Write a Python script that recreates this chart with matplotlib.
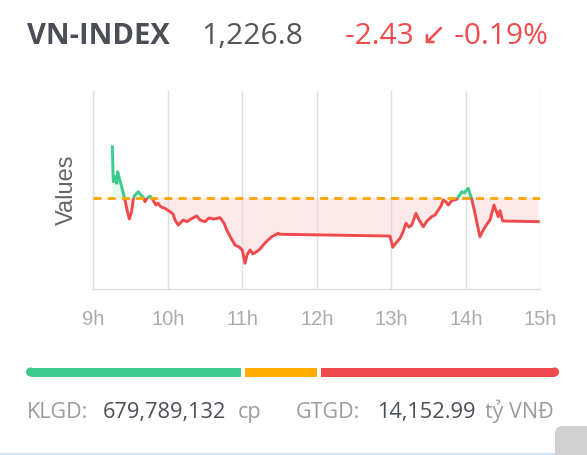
import matplotlib.pyplot as plt
import numpy as np
from matplotlib.patches import Rectangle, FancyBboxPatch, Circle

# intraday VN-INDEX, time in hours
times = [9.255, 9.268, 9.291, 9.314, 9.328, 9.349, 9.381, 9.403, 9.421, 9.448,
         9.483, 9.515, 9.537, 9.560, 9.604, 9.640, 9.667, 9.694, 9.721, 9.761,
         9.788, 9.842, 9.868, 9.909, 9.962, 10.030, 10.070, 10.097, 10.141, 10.208,
         10.258, 10.311, 10.388, 10.432, 10.499, 10.553, 10.620, 10.701, 10.754, 10.791,
         10.848, 10.902, 10.956, 11.000, 11.036, 11.063, 11.103, 11.143, 11.193, 11.238,
         11.282, 11.332, 11.395, 11.439, 11.483, 11.500, 12.983, 13.019, 13.063, 13.117,
         13.157, 13.197, 13.238, 13.274, 13.331, 13.372, 13.430, 13.479, 13.542, 13.587,
         13.631, 13.667, 13.698, 13.734, 13.765, 13.815, 13.878, 13.909, 13.945, 13.976,
         14.034, 14.057, 14.079, 14.123, 14.164, 14.190, 14.235, 14.285, 14.325, 14.378,
         14.436, 14.459, 14.495, 14.973]
values = [1234.37, 1230.84, 1231.34, 1230.68, 1231.85, 1231.18, 1230.33, 1229.67, 1229.14, 1228.15,
          1227.07, 1227.81, 1229.09, 1229.49, 1229.83, 1229.49, 1229.29, 1228.82, 1229.16, 1229.39,
          1229.14, 1228.48, 1228.66, 1228.28, 1228.15, 1227.81, 1227.58, 1226.97, 1226.46, 1226.97,
          1226.80, 1227.07, 1227.37, 1226.97, 1226.80, 1227.17, 1227.07, 1227.20, 1226.67, 1225.96,
          1225.15, 1224.44, 1224.24, 1223.94, 1222.60, 1223.43, 1223.94, 1223.54, 1223.77, 1224.04,
          1224.44, 1224.85, 1225.28, 1225.45, 1225.63, 1225.53, 1225.35, 1224.21, 1224.65, 1225.12,
          1225.76, 1226.64, 1226.26, 1226.46, 1227.65, 1226.97, 1226.29, 1226.87, 1227.30, 1227.47,
          1227.98, 1228.38, 1228.99, 1228.79, 1228.48, 1228.94, 1229.06, 1229.39, 1229.83, 1229.70,
          1230.17, 1229.60, 1229.09, 1227.65, 1226.16, 1225.28, 1225.96, 1226.57, 1226.97, 1228.48,
          1227.30, 1227.91, 1226.87, 1226.80]
ref_value = 1229.23

hour_ticks = [9, 10, 11, 12, 13, 14, 15]
hour_labels = ['9h', '10h', '11h', '12h', '13h', '14h', '15h']

# breadth bar: up / unchanged / down (relative widths)
breadth = [215, 71.4, 238.3]
breadth_colors = ['#3ccb8b', '#ffab00', '#f04b4c']

GREEN = '#3ccb8b'
RED = '#f04b4c'

W, H = 587, 455
fig = plt.figure(figsize=(W / 100, H / 100), dpi=100)

# pixel-coord overlay for header / footer
deco = fig.add_axes([0, 0, 1, 1], zorder=0)
deco.set_xlim(0, W)
deco.set_ylim(H, 0)
deco.axis('off')

ax = fig.add_axes([93.3 / W, 166 / H, 447 / W, 198 / H], zorder=1)
ax.patch.set_alpha(0)
t = np.array(times)
v = np.array(values)

ax.fill_between(t, v, ref_value, where=v >= ref_value, interpolate=True,
                color='#e6f8ef', lw=0)
ax.fill_between(t, v, ref_value, where=v <= ref_value, interpolate=True,
                color='#fde9e9', lw=0)

up_clip = Rectangle((8, ref_value), 8, 30, transform=ax.transData)
dn_clip = Rectangle((8, ref_value - 30), 8, 30, transform=ax.transData)
l1, = ax.plot(t, v, color=GREEN, lw=2.1, solid_joinstyle='round', zorder=3)
l1.set_clip_path(up_clip)
l2, = ax.plot(t, v, color=RED, lw=2.1, solid_joinstyle='round', zorder=3)
l2.set_clip_path(dn_clip)

ax.axhline(ref_value, color='#ffa500', lw=2, dashes=(2.9, 2.2), zorder=4)

ax.set_xlim(9, 15)
ax.set_ylim(1220, 1240)
ax.set_xticks(hour_ticks)
ax.set_xticklabels(hour_labels)
ax.set_yticks([])
ax.tick_params(axis='x', length=0, pad=15, labelsize=14.5, labelcolor='#aaaaaa')
for lab in ax.get_xticklabels():
    lab.set_family('Liberation Sans')
ax.grid(axis='x', color='#dedede', lw=1)
for s in ['top', 'right']:
    ax.spines[s].set_visible(False)
for s in ['left', 'bottom']:
    ax.spines[s].set_color('#dcdcdc')
    ax.spines[s].set_linewidth(1)
ax.set_ylabel('Values', fontsize=17, color='#666666', family='Liberation Sans', labelpad=11)

# header
deco.text(27, 43.5, 'VN-INDEX', fontsize=21, fontweight='bold', color='#4b4e56',
          family='Open Sans', va='baseline')
deco.text(201, 43.5, '1,226.8', fontsize=21.7, color='#555555',
          family='Open Sans', va='baseline')
deco.text(345, 43.5, '-2.43 \u2199 -0.19%', fontsize=21.5, color=RED,
          family=['Open Sans', 'DejaVu Sans'], va='baseline')

# breadth bar
x0, y0, bh, gap = 26, 367.5, 9, 4.2
r = bh / 2
lefts = np.concatenate([[0], np.cumsum(breadth)[:-1]]) + x0 + gap * np.arange(len(breadth))
for i, (w, c) in enumerate(zip(breadth, breadth_colors)):
    left = lefts[i]
    if i == 0:
        deco.add_patch(Circle((left + r, y0 + r), r, fc=c, ec='none'))
        deco.add_patch(Rectangle((left + r, y0), w - r, bh, fc=c, ec='none'))
    elif i == len(breadth) - 1:
        deco.add_patch(Circle((left + w - r, y0 + r), r, fc=c, ec='none'))
        deco.add_patch(Rectangle((left, y0), w - r, bh, fc=c, ec='none'))
    else:
        deco.add_patch(Rectangle((left, y0), w, bh, fc=c, ec='none'))

# footer stats
fy = 418.3
lab_c, num_c = '#9b9b9b', '#4a4f57'
deco.text(27, fy, 'KLGD:', fontsize=15.5, color=lab_c, family='Open Sans', va='baseline')
deco.text(103, fy, '679,789,132', fontsize=15.7, color=num_c, family='Open Sans', va='baseline')
deco.text(238, fy, 'cp', fontsize=15.5, color=lab_c, family='Open Sans', va='baseline')
deco.text(296, fy, 'GTGD:', fontsize=15.5, color=lab_c, family='Open Sans', va='baseline')
deco.text(377, fy, '14,152.99', fontsize=15.7, color=num_c, family='Open Sans', va='baseline')
deco.text(485, fy, 'tỷ VNĐ', fontsize=15.5, color=lab_c, family='Open Sans', va='baseline')

# page bits at the bottom edge
deco.add_patch(Rectangle((0, 452.7), 560, 3, fc='#cfe3f6', ec='none'))
deco.add_patch(FancyBboxPatch((555, 426), 50, 40, boxstyle='round,pad=0,rounding_size=8',
                              fc='#d0d0d0', ec='none'))

fig.savefig('out.png', dpi=100)
